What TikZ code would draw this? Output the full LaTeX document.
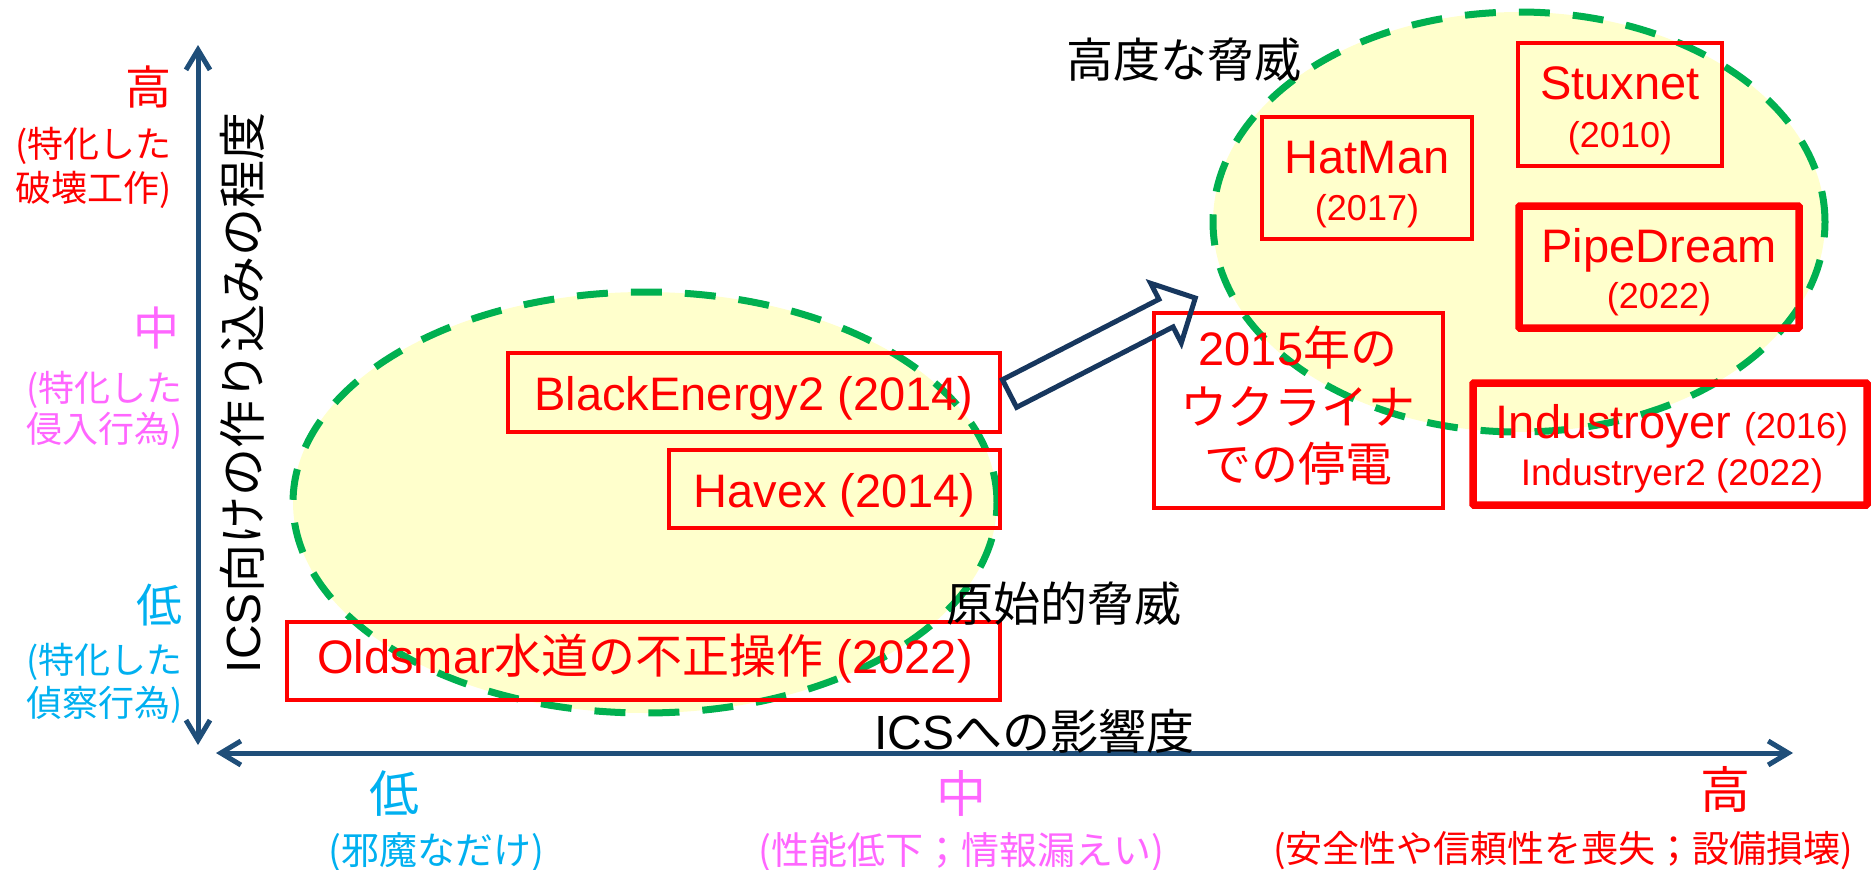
\documentclass[tikz,border=0pt]{standalone}
\usepackage{fontspec}
\setmainfont{Liberation Sans}
\newfontfamily\jp{Noto Sans CJK JP}
\usetikzlibrary{arrows.meta,shapes.geometric}
\definecolor{rd}{HTML}{FF0000}
\definecolor{mg}{HTML}{FF66FF}
\definecolor{cy}{HTML}{00B0F0}
\definecolor{axisblue}{HTML}{1F4E79}
\definecolor{navy}{HTML}{17375E}
\definecolor{zonegreen}{HTML}{00B050}
\definecolor{zonefill}{HTML}{FFFFCC}
\newcommand\fsz[1]{\fontsize{#1pt}{#1pt}\selectfont}
\begin{document}
\begin{tikzpicture}[x=1pt,y=-1pt,
  zone/.style={ellipse, draw=zonegreen, fill=zonefill, line width=7pt, dash pattern=on 31pt off 23pt, inner sep=0pt},
  box/.style={draw=rd, line width=4pt, inner sep=0pt},
  thickbox/.style={draw=rd, line width=7.5pt, inner sep=0pt, rounded corners=1pt},
  lbl/.style={inner sep=0pt, anchor=base},
  rlbl/.style={inner sep=0pt, anchor=base east},
  axis/.style={draw=axisblue, line width=5pt, {Straight Barb[length=20pt,width=24pt]}-{Straight Barb[length=20pt,width=24pt]}},
  blockarrow/.style={draw=navy, line width=5pt, line join=miter}]
\useasboundingbox (0,0) rectangle (1872,870);

% zones
\node[zone, minimum width=704pt, minimum height=421pt] (lowzone) at (645,502.5) {};
\node[zone, minimum width=612pt, minimum height=420pt] (highzone) at (1519,222) {};

% axes
\coordinate (vtop) at (198,45);
\coordinate (vbot) at (198,745);
\coordinate (hleft) at (216,753);
\coordinate (hright) at (1793,753);
\draw[axis] (vbot) -- (vtop);
\draw[axis] (hleft) -- (hright);

% boxes
\node[box, minimum width=492pt, minimum height=79pt] (bebox) at (754,392.5) {};
\node[box, minimum width=331pt, minimum height=78pt] (hvbox) at (834.5,489) {};
\node[box, minimum width=713pt, minimum height=78pt] (oldbox) at (643.5,661) {};
\node[box, minimum width=210pt, minimum height=122pt] (hatbox) at (1367,178) {};
\node[box, minimum width=204pt, minimum height=123pt] (stuxbox) at (1620,104.5) {};
\node[thickbox, minimum width=280pt, minimum height=122pt] (pipebox) at (1659,267) {};
\node[box, minimum width=289pt, minimum height=195pt] (ukrbox) at (1298.5,410.5) {};
\node[thickbox, minimum width=394pt, minimum height=122pt] (indbox) at (1670,444) {};

% box texts
\node[lbl, text=rd, font=\fsz{47}] (betext) at (754,410) {BlackEnergy2 (2014)};
\node[lbl, text=rd, font=\fsz{47}] (hvtext) at (834.5,507) {Havex (2014)};
\node[lbl, text=rd, font=\fsz{47}] (oldtext) at (645,673) {Oldsmar{\jp 水道の不正操作} (2022)};
\node[lbl, text=rd, font=\fsz{47}] (hattext) at (1367,173) {HatMan};
\node[lbl, text=rd, font=\fsz{36}] (hatyear) at (1367,220) {(2017)};
\node[lbl, text=rd, font=\fsz{47}] (stuxtext) at (1620,99) {Stuxnet};
\node[lbl, text=rd, font=\fsz{36}] (stuxyear) at (1620,147) {(2010)};
\node[lbl, text=rd, font=\fsz{47}] (pipetext) at (1659,262) {PipeDream};
\node[lbl, text=rd, font=\fsz{36}] (pipeyear) at (1659,308) {(2022)};
\node[lbl, text=rd, font=\fsz{47}] (ukr1) at (1298,365) {2015{\jp 年の}};
\node[lbl, text=rd, font=\fsz{47}\jp] (ukr2) at (1298,424) {ウクライナ};
\node[lbl, text=rd, font=\fsz{47}\jp] (ukr3) at (1298,481) {での停電};
\node[lbl, text=rd, font=\fsz{47}] (ind1) at (1672,438) {Industroyer {\fsz{36}(2016)}};
\node[lbl, text=rd, font=\fsz{37}] (ind2) at (1672,485) {Industryer2 (2022)};

% block arrow
\draw[blockarrow] (1002.4,379.7) -- (1158.9,299.3) -- (1150.7,283.3) -- (1195.3,298)
  -- (1181.3,342.9) -- (1173.1,326.9) -- (1016.6,407.3) -- cycle;

% zone labels
\node[lbl, font=\fsz{47}\jp] (hightitle) at (1184,77) {高度な脅威};
\node[lbl, font=\fsz{47}\jp] (lowtitle) at (1064,621) {原始的脅威};

% axis titles
\node[lbl, font=\fsz{48}] (xtitle) at (1034,749) {ICS{\jp への影響度}};
\node[lbl, font=\fsz{48}, rotate=90] (ytitle) at (260,393) {ICS{\jp 向けの作り込みの程度}};

% y-axis levels
\node[rlbl, text=rd, font=\fsz{46}\jp] (yhigh) at (172,104.5) {高};
\node[rlbl, text=rd, font=\fsz{36}\jp] (yhigh1) at (172,157) {(特化した};
\node[rlbl, text=rd, font=\fsz{36}\jp] (yhigh2) at (172,201) {破壊工作)};
\node[rlbl, text=mg, font=\fsz{46}\jp] (ymid) at (180,345.5) {中};
\node[rlbl, text=mg, font=\fsz{36}\jp] (ymid1) at (183,401) {(特化した};
\node[rlbl, text=mg, font=\fsz{36}\jp] (ymid2) at (183,442) {侵入行為)};
\node[rlbl, text=cy, font=\fsz{46}\jp] (ylow) at (183,622.5) {低};
\node[rlbl, text=cy, font=\fsz{36}\jp] (ylow1) at (183,673) {(特化した};
\node[rlbl, text=cy, font=\fsz{36}\jp] (ylow2) at (183,716) {偵察行為)};

% x-axis levels
\node[lbl, text=cy, font=\fsz{50}\jp] (xlow) at (394,812) {低};
\node[lbl, text=cy, font=\fsz{38}\jp] (xlow1) at (436,864) {(邪魔なだけ)};
\node[lbl, text=mg, font=\fsz{50}\jp] (xmid) at (961,812) {中};
\node[lbl, text=mg, font=\fsz{38}\jp] (xmid1) at (961,864) {(性能低下；情報漏えい)};
\node[lbl, text=rd, font=\fsz{50}\jp] (xhigh) at (1725,808) {高};
\node[lbl, text=rd, font=\fsz{37}\jp] (xhigh1) at (1563,862) {(安全性や信頼性を喪失；設備損壊)};
\end{tikzpicture}
\end{document}
